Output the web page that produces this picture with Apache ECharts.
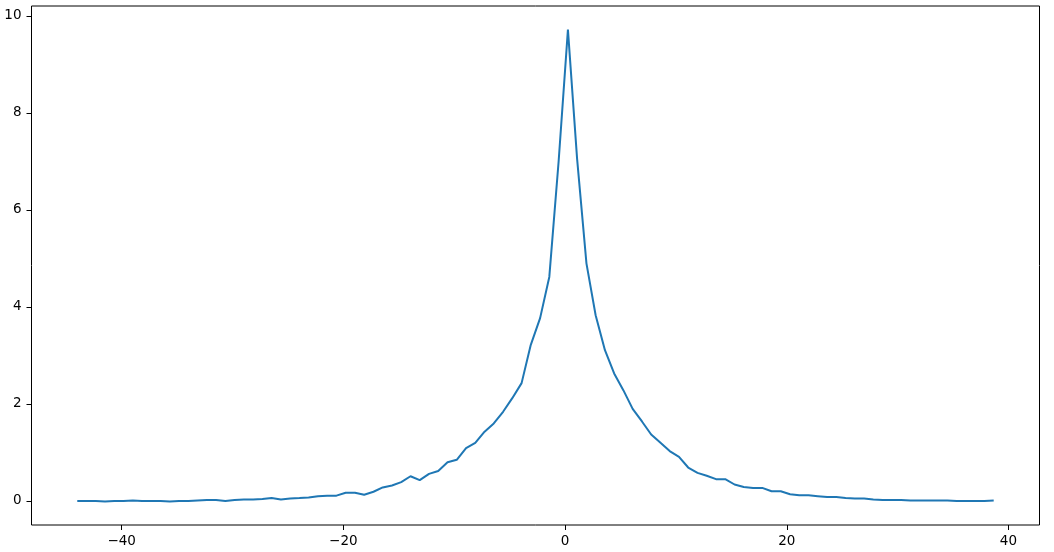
<!DOCTYPE html>
<html>
<head>
<meta charset="utf-8">
<script src="https://cdn.jsdelivr.net/npm/echarts@6/dist/echarts.min.js"></script>
<style>
  html, body { margin: 0; padding: 0; background: #fff; }
  #chart { width: 1054px; height: 552px; }
</style>
</head>
<body>
<div id="chart"></div>
<script>
// x positions of the samples
const xValues = [
  -44.00, -43.17, -42.33, -41.50, -40.66, -39.83, -38.99, -38.16, -37.32, -36.49,
  -35.65, -34.82, -33.98, -33.15, -32.31, -31.48, -30.64, -29.81, -28.97, -28.14,
  -27.30, -26.47, -25.63, -24.80, -23.96, -23.13, -22.29, -21.46, -20.62, -19.79,
  -18.95, -18.12, -17.28, -16.45, -15.61, -14.78, -13.94, -13.11, -12.27, -11.44,
  -10.60, -9.77, -8.93, -8.10, -7.26, -6.43, -5.59, -4.76, -3.92, -3.09,
  -2.25, -1.42, -0.58, 0.26, 1.09, 1.93, 2.76, 3.60, 4.43, 5.27,
  6.10, 6.94, 7.77, 8.61, 9.44, 10.28, 11.11, 11.95, 12.78, 13.62,
  14.45, 15.29, 16.12, 16.96, 17.79, 18.63, 19.46, 20.30, 21.13, 21.97,
  22.80, 23.64, 24.47, 25.31, 26.14, 26.98, 27.81, 28.65, 29.48, 30.32,
  31.15, 31.99, 32.82, 33.66, 34.49, 35.33, 36.16, 37.00, 37.83, 38.67
]

// values
const yValues = [
  0.00, 0.00, 0.00, -0.01, 0.00, 0.00, 0.01, 0.00, 0.00, 0.00,
  -0.01, 0.00, 0.00, 0.01, 0.02, 0.02, 0.00, 0.02, 0.03, 0.03,
  0.04, 0.06, 0.03, 0.05, 0.06, 0.07, 0.10, 0.11, 0.11, 0.17,
  0.17, 0.13, 0.19, 0.28, 0.32, 0.39, 0.51, 0.43, 0.56, 0.62,
  0.80, 0.85, 1.09, 1.20, 1.43, 1.60, 1.84, 2.12, 2.43, 3.22,
  3.77, 4.62, 7.00, 9.72, 7.05, 4.90, 3.83, 3.11, 2.63, 2.28,
  1.90, 1.64, 1.37, 1.20, 1.03, 0.91, 0.69, 0.58, 0.52, 0.45,
  0.45, 0.34, 0.29, 0.27, 0.27, 0.20, 0.20, 0.14, 0.12, 0.12,
  0.10, 0.08, 0.08, 0.06, 0.05, 0.05, 0.03, 0.02, 0.02, 0.02,
  0.01, 0.01, 0.01, 0.01, 0.01, 0.00, 0.00, 0.00, 0.00, 0.01
]

const xTicks = [-40, -20, 0, 20, 40]
const yTicks = [0, 2, 4, 6, 8, 10]

const chart = echarts.init(document.getElementById("chart"))

// matplotlib style minus sign
const fmt = (v) => (v < 0 ? "\u2212" + Math.abs(v) : String(v))

const option = {
  animation: false,
  grid: {
    left: 31.5,
    right: 14.5,
    top: 6,
    bottom: 27,
    show: true,
    borderColor: "#000",
    borderWidth: 1,
    backgroundColor: "#fff",
  },
  xAxis: {
    type: "value",
    min: -48.13,
    max: 42.8,
    axisLine: { show: false, onZero: false },
    splitLine: { show: false },
    axisTick: {
      show: true,
      length: 5,
      customValues: xTicks,
      lineStyle: { color: "#000", width: 1 },
    },
    axisLabel: {
      customValues: xTicks,
      formatter: fmt,
      color: "#000",
      fontSize: 13.5,
      fontFamily: "DejaVu Sans",
      margin: 9,
    },
  },
  yAxis: {
    type: "value",
    min: -0.495,
    max: 10.206,
    axisLine: { show: false, onZero: false },
    splitLine: { show: false },
    axisTick: {
      show: true,
      length: 5,
      customValues: yTicks,
      lineStyle: { color: "#000", width: 1 },
    },
    axisLabel: {
      customValues: yTicks,
      formatter: fmt,
      color: "#000",
      fontSize: 13.5,
      fontFamily: "DejaVu Sans",
      margin: 10,
    },
  },
  series: [
    {
      type: "line",
      data: xValues.map((x, i) => [x, yValues[i]]),
      showSymbol: false,
      lineStyle: { color: "#1f77b4", width: 2 },
      itemStyle: { color: "#1f77b4" },
    },
  ],
}

chart.setOption(option)
</script>
</body>
</html>
